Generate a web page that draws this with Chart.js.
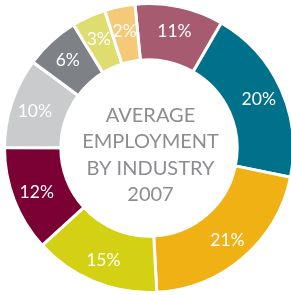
<!DOCTYPE html>
<html>
<head>
<meta charset="utf-8">
<script src="https://cdn.jsdelivr.net/npm/chart.js@4"></script>
<style>
  html, body { margin: 0; padding: 0; background: #ffffff; overflow: hidden; }
  #wrap { position: relative; width: 298px; height: 295px; }
</style>
</head>
<body>
<div id="wrap"><canvas id="c"></canvas></div>
<script>
// Data (clockwise from the top)
const categories = ['Industry 1', 'Industry 2', 'Industry 3', 'Industry 4', 'Industry 5', 'Industry 6', 'Industry 7', 'Industry 8', 'Industry 9'];
// printed share labels
const shareLabels = ['11%', '20%', '21%', '15%', '12%', '10%', '6%', '3%', '2%'];
// slice sizes as drawn in the reference (percent of the full circle)
const sliceSizes = [9.9, 19.9, 20.9, 14.1, 11.8, 10.1, 6.1, 3.8, 3.4];
const colors = ['#a65b70', '#00718b', '#efb114', '#d4d013', '#7b0034', '#c9cbcd', '#7e8185', '#dfdc70', '#f5c978'];
const centerTitle = ['AVERAGE', 'EMPLOYMENT', 'BY INDUSTRY', '2007'];

const FONT = 'Lato, "Open Sans", sans-serif';

const labelPlugin = {
  id: 'labels',
  afterDatasetsDraw(chart) {
    const ctx = chart.ctx;
    const meta = chart.getDatasetMeta(0);
    ctx.save();
    ctx.fillStyle = '#ffffff';
    ctx.textAlign = 'center';
    ctx.textBaseline = 'middle';
    ctx.font = '17.5px ' + FONT;
    meta.data.forEach((arc, i) => {
      const mid = (arc.startAngle + arc.endAngle) / 2;
      const r = arc.innerRadius + (arc.outerRadius - arc.innerRadius) * 0.57;
      ctx.fillText(shareLabels[i], arc.x + Math.cos(mid) * r, arc.y + Math.sin(mid) * r + 1);
    });
    // center title
    const a = meta.data[0];
    const cx = a.x + 1.5, cy = a.y + 7;
    ctx.fillStyle = '#8b8d90';
    ctx.font = '20px ' + FONT;
    const lh = 26.5;
    centerTitle.forEach((t, i) => {
      ctx.fillText(t, cx, cy + (i - (centerTitle.length - 1) / 2) * lh);
    });
    ctx.restore();
  }
};

new Chart(document.getElementById('c'), {
  type: 'doughnut',
  data: {
    labels: categories,
    datasets: [{
      data: sliceSizes,
      backgroundColor: colors,
      borderColor: '#ffffff',
      borderWidth: 3
    }]
  },
  options: {
    responsive: true,
    maintainAspectRatio: false,
    animation: false,
    rotation: -5.6,
    cutout: '61%',
    layout: { padding: { top: 2, bottom: 1, left: 3, right: 3 } },
    plugins: {
      legend: { display: false },
      tooltip: { enabled: false }
    }
  },
  plugins: [labelPlugin]
});
</script>
</body>
</html>
